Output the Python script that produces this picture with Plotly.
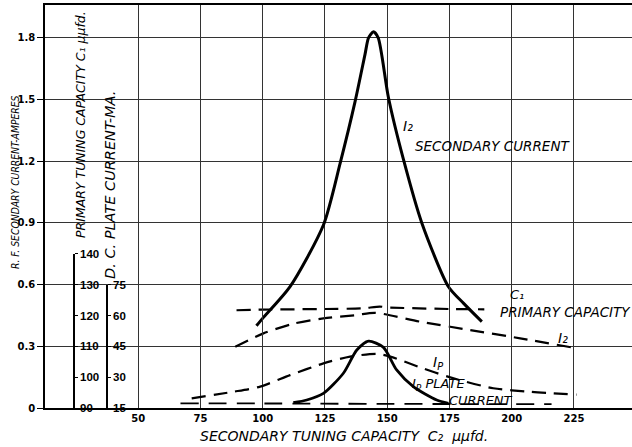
import plotly.graph_objects as go

# ---------------- data ----------------
# Secondary tuning capacity C2 (uufd) on x
# I2 secondary current, solid (amperes)
c2_i2_solid = [97.5, 100, 111, 124.4, 131.1, 137.1, 141.1, 142.5, 144.5, 146.4, 150.5, 156.5, 163.9, 174.6, 180.6, 188]
i2_solid = [0.40, 0.436, 0.59, 0.89, 1.19, 1.49, 1.72, 1.80, 1.83, 1.80, 1.51, 1.21, 0.90, 0.59, 0.51, 0.42]

# I2 secondary current, dashed (amperes)
c2_i2_dash = [89, 100.3, 112.3, 124.4, 137.8, 145, 163.2, 183.3, 203.4, 224]
i2_dash = [0.298, 0.363, 0.41, 0.436, 0.452, 0.463, 0.42, 0.379, 0.339, 0.295]

# C1 primary tuning capacity, dashed (uufd)
c2_c1 = [89.5, 100, 125, 140, 147, 150, 175, 189]
c1_vals = [121.7, 121.9, 122.1, 122.3, 122.9, 122.6, 122.1, 122.0]

# Ip plate current, dashed (mA)
c2_ip_dash = [71.5, 88.3, 99, 111, 124.4, 135.1, 146, 151.2, 163.2, 175, 192.6, 207.4, 226]
ip_dash = [19.7, 22.9, 25.4, 31.0, 36.7, 40.0, 41.3, 40.0, 34.8, 30.0, 24.6, 22.9, 21.5]

# Ip plate current, solid (mA)
c2_ip_solid = [112.3, 117.7, 124.4, 132.4, 137.8, 142.5, 148.5, 153.8, 160.5, 169.9, 174.6]
ip_solid = [17.6, 18.9, 22.1, 31.9, 43.2, 47.5, 44.5, 33.5, 25.4, 18.9, 17.3]

# near-baseline dashed plate current (mA)
c2_base = [67, 100, 150, 200, 216]
ip_base = [17.2, 17.2, 17.0, 16.9, 16.9]

# axis ticks
x_ticks = [50, 75, 100, 125, 150, 175, 200, 225]
amp_ticks = [0, 0.3, 0.6, 0.9, 1.2, 1.5, 1.8]
amp_labels = ["0", "0.3", "0.6", "0.9", "1.2", "1.5", "1.8"]
c1_ticks = [90, 100, 110, 120, 130, 140]
ma_ticks = [15, 30, 45, 60, 75]

# ---------------- figure ----------------
W, H = 632, 447
ML, MR, MT, MB = 45, 0, 5, 39
PW, PH = W - ML - MR, H - MT - MB
Y_TOP = 1.96
X_RANGE = [12.6, 248.3]

def px2paper_x(px):
    return (px - ML) / PW

def px2paper_y(py):
    return (H - MB - py) / PH

fig = go.Figure()

dash = "14px,8px"
fig.add_trace(go.Scatter(x=c2_i2_solid, y=i2_solid, mode="lines", xaxis="x", yaxis="y",
                         line=dict(color="black", width=3, shape="spline", smoothing=0.7)))
fig.add_trace(go.Scatter(x=c2_i2_dash, y=i2_dash, mode="lines", xaxis="x", yaxis="y",
                         line=dict(color="black", width=2.2, dash=dash, shape="spline", smoothing=0.7)))
fig.add_trace(go.Scatter(x=c2_c1, y=c1_vals, mode="lines", xaxis="x", yaxis="y2",
                         line=dict(color="black", width=2.2, dash=dash, shape="spline", smoothing=0.5)))
fig.add_trace(go.Scatter(x=c2_ip_dash, y=ip_dash, mode="lines", xaxis="x", yaxis="y3",
                         line=dict(color="black", width=2.2, dash=dash, shape="spline", smoothing=0.7)))
fig.add_trace(go.Scatter(x=c2_ip_solid, y=ip_solid, mode="lines", xaxis="x", yaxis="y3",
                         line=dict(color="black", width=2.8, shape="spline", smoothing=0.7)))
fig.add_trace(go.Scatter(x=c2_base, y=ip_base, mode="lines", xaxis="x", yaxis="y3",
                         line=dict(color="black", width=1.8, dash="18px,10px", shape="spline")))

tickfont = dict(family="DejaVu Sans", size=10, color="black", weight="bold")
sec_font = dict(family="Liberation Sans", size=11.5, color="black", weight="bold")

fig.update_layout(
    width=W, height=H,
    margin=dict(l=ML, r=MR, t=MT, b=MB),
    paper_bgcolor="white",
    plot_bgcolor="rgba(0,0,0,0)",
    showlegend=False,
    xaxis=dict(range=X_RANGE, tickvals=x_ticks, showgrid=True, gridcolor="#333", gridwidth=1.2,
               showline=True, linecolor="black", linewidth=1.5, mirror=True, zeroline=False,
               ticks="", tickfont=tickfont, anchor="y", automargin=False),
    yaxis=dict(range=[0, Y_TOP], tickvals=amp_ticks, ticktext=amp_labels, showgrid=True,
               gridcolor="#333", gridwidth=1.2, showline=True, linecolor="black", linewidth=1.5,
               zeroline=False, ticks="outside", ticklen=6, tickcolor="black", tickfont=tickfont,
               domain=[0, 1], automargin=False),
    yaxis2=dict(range=[90, 140], domain=[0, 0.75 / Y_TOP], anchor="free",
                position=px2paper_x(74), side="right", tickvals=c1_ticks, showgrid=False,
                zeroline=False, showline=True, linecolor="black", linewidth=1.5,
                ticks="outside", ticklen=3, tickcolor="black", tickfont=sec_font, automargin=False),
    yaxis3=dict(range=[15, 75], domain=[0, 0.6 / Y_TOP], anchor="free",
                position=px2paper_x(107), side="right", tickvals=ma_ticks, showgrid=False,
                zeroline=False, showline=True, linecolor="black", linewidth=1.5,
                ticks="outside", ticklen=3, tickcolor="black", tickfont=sec_font, automargin=False),
)

lab = dict(family="DejaVu Sans", color="black")
annotations = [
    # axis titles
    dict(text="<i>R. F. SECONDARY CURRENT-AMPERES</i>", xref="paper", yref="paper",
         x=px2paper_x(15), y=px2paper_y(182), textangle=-90, showarrow=False,
         xanchor="center", yanchor="middle",
         font=dict(size=10.3, family="Liberation Sans Narrow, DejaVu Sans Condensed, Liberation Sans", color="black")),
    dict(text="<i>PRIMARY TUNING CAPACITY C₁ μμfd.</i>", xref="paper", yref="paper",
         x=px2paper_x(80), y=px2paper_y(125), textangle=-90, showarrow=False,
         xanchor="center", yanchor="middle", font=dict(size=12.5, **lab)),
    dict(text="<i>D. C. PLATE CURRENT-MA.</i>", xref="paper", yref="paper",
         x=px2paper_x(110), y=px2paper_y(185), textangle=-90, showarrow=False,
         xanchor="center", yanchor="middle", font=dict(size=14.5, **lab)),
    dict(text="<i>SECONDARY TUNING CAPACITY  C₂  μμfd.</i>", xref="paper", yref="paper",
         x=px2paper_x(344), y=px2paper_y(436), showarrow=False,
         xanchor="center", yanchor="middle", font=dict(size=14, **lab)),
    # curve labels
    dict(text="<i>I₂</i>", x=158.4, y=1.37, showarrow=False, font=dict(size=14, **lab)),
    dict(text="<i>SECONDARY CURRENT</i>", x=160.4, y=1.274, xanchor="left", showarrow=False,
         font=dict(size=13.5, **lab)),
    dict(text="<i>C₁</i>", x=202.1, y=0.55, showarrow=False, font=dict(size=13, **lab)),
    dict(text="<i>PRIMARY CAPACITY</i>", x=194.5, y=0.467, xanchor="left", showarrow=False,
         font=dict(size=13.5, **lab)),
    dict(text="<i>I₂</i>", x=220.6, y=0.34, showarrow=False, font=dict(size=14, **lab)),
    dict(text="<i>I<sub>P</sub></i>", x=170.4, y=0.22, showarrow=False, font=dict(size=14, **lab)),
    dict(text="<i>I<sub>P</sub> PLATE</i>", x=159.2, y=0.115, xanchor="left", showarrow=False,
         font=dict(size=13, **lab)),
    dict(text="<i>CURRENT</i>", x=187.7, y=0.036, showarrow=False, font=dict(size=13, **lab)),
]
fig.update_layout(annotations=annotations)

fig.write_html("out.html", config={"displayModeBar": False},
               post_script="document.body.style.margin='0';document.body.style.overflow='hidden';")
